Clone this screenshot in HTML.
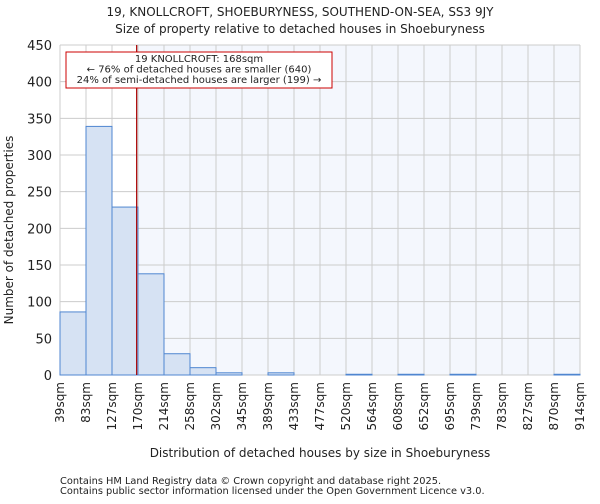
<!DOCTYPE html>
<html><head><meta charset="utf-8"><style>
body{margin:0;background:#fff;font-family:"DejaVu Sans","Liberation Sans",sans-serif;}
text{font-family:"DejaVu Sans","Liberation Sans",sans-serif;fill:#222;}
</style></head><body>
<svg id="chart" width="600" height="500" xmlns="http://www.w3.org/2000/svg">
<text x="300" y="16" font-size="12" text-anchor="middle">19, KNOLLCROFT, SHOEBURYNESS, SOUTHEND-ON-SEA, SS3 9JY</text>
<text x="300" y="33" font-size="12" text-anchor="middle">Size of property relative to detached houses in Shoeburyness</text>
<g id="plot"></g>
<text x="320" y="457" font-size="12" text-anchor="middle">Distribution of detached houses by size in Shoeburyness</text>
<text transform="translate(13,230) rotate(-90)" font-size="12" text-anchor="middle">Number of detached properties</text>
<text x="60" y="484" font-size="9.8" fill="#444">Contains HM Land Registry data © Crown copyright and database right 2025.</text>
<text x="60" y="494" font-size="9.8" fill="#444">Contains public sector information licensed under the Open Government Licence v3.0.</text>
</svg>
<script>
const categories=["39sqm","83sqm","127sqm","170sqm","214sqm","258sqm","302sqm","345sqm","389sqm","433sqm","477sqm","520sqm","564sqm","608sqm","652sqm","695sqm","739sqm","783sqm","827sqm","870sqm","914sqm"];
const counts=[86,339,229,138,29,10,3,0,3,0,0,1,0,1,0,1,0,0,0,1];
const yTicks=[0,50,100,150,200,250,300,350,400,450];
const propertySize=168;
const binStart=39, binEnd=914;
const X0=60,X1=580,Y0=375,Y1=45,YMAX=450;
const ns="http://www.w3.org/2000/svg";
const g=document.getElementById('plot');
const xs=i=>X0+i*(X1-X0)/counts.length;
const ys=v=>Y0-v*(Y0-Y1)/YMAX;
const xv=v=>X0+(v-binStart)/(binEnd-binStart)*(X1-X0);
function mk(t,a){const e=document.createElementNS(ns,t);for(const k in a)e.setAttribute(k,a[k]);g.appendChild(e);return e;}
const px=xv(propertySize);
let e=mk('rect',{x:X0,y:Y1,width:X1-X0,height:Y0-Y1,fill:'#f4f7fd'});


e=mk('rect',{x:X0,y:Y1,width:px-X0,height:Y0-Y1,fill:'#ffffff'});


for(let i=0;i<=counts.length;i++){e=mk('line',{x1:xs(i),x2:xs(i),y1:Y1,y2:Y0,stroke:'#cccccc'});

}
yTicks.forEach(t=>{e=mk('line',{x1:X0,x2:X1,y1:ys(t),y2:ys(t),stroke:'#cccccc'});


e=mk('text',{x:X0-8,y:ys(t)+5,'font-size':13,'text-anchor':'end'});e.textContent=t;

});
counts.forEach((c,i)=>{if(c<=0)return;e=mk('rect',{x:xs(i),y:ys(c),width:xs(i+1)-xs(i),height:Y0-ys(c),fill:'#d6e2f3',stroke:'#4f86d0','stroke-width':1});

});
categories.forEach((c,i)=>{const x=xs(i)+4;e=mk('text',{x:x,y:382,'font-size':12,'text-anchor':'end',transform:`rotate(-90 ${x} 382)`});e.textContent=c;

});
e=mk('line',{x1:px,x2:px,y1:Y1,y2:Y0,stroke:'#aa0000','stroke-width':1.2});


e=mk('rect',{x:66,y:52,width:266,height:36,fill:'#fff',stroke:'#cc0000','stroke-width':1});


["19 KNOLLCROFT: "+propertySize+"sqm","← 76% of detached houses are smaller (640)","24% of semi-detached houses are larger (199) →"].forEach((s,i)=>{e=mk('text',{x:199,y:62+i*10.5,'font-size':10,'text-anchor':'middle'});e.textContent=s;

});
</script>
</body></html>
